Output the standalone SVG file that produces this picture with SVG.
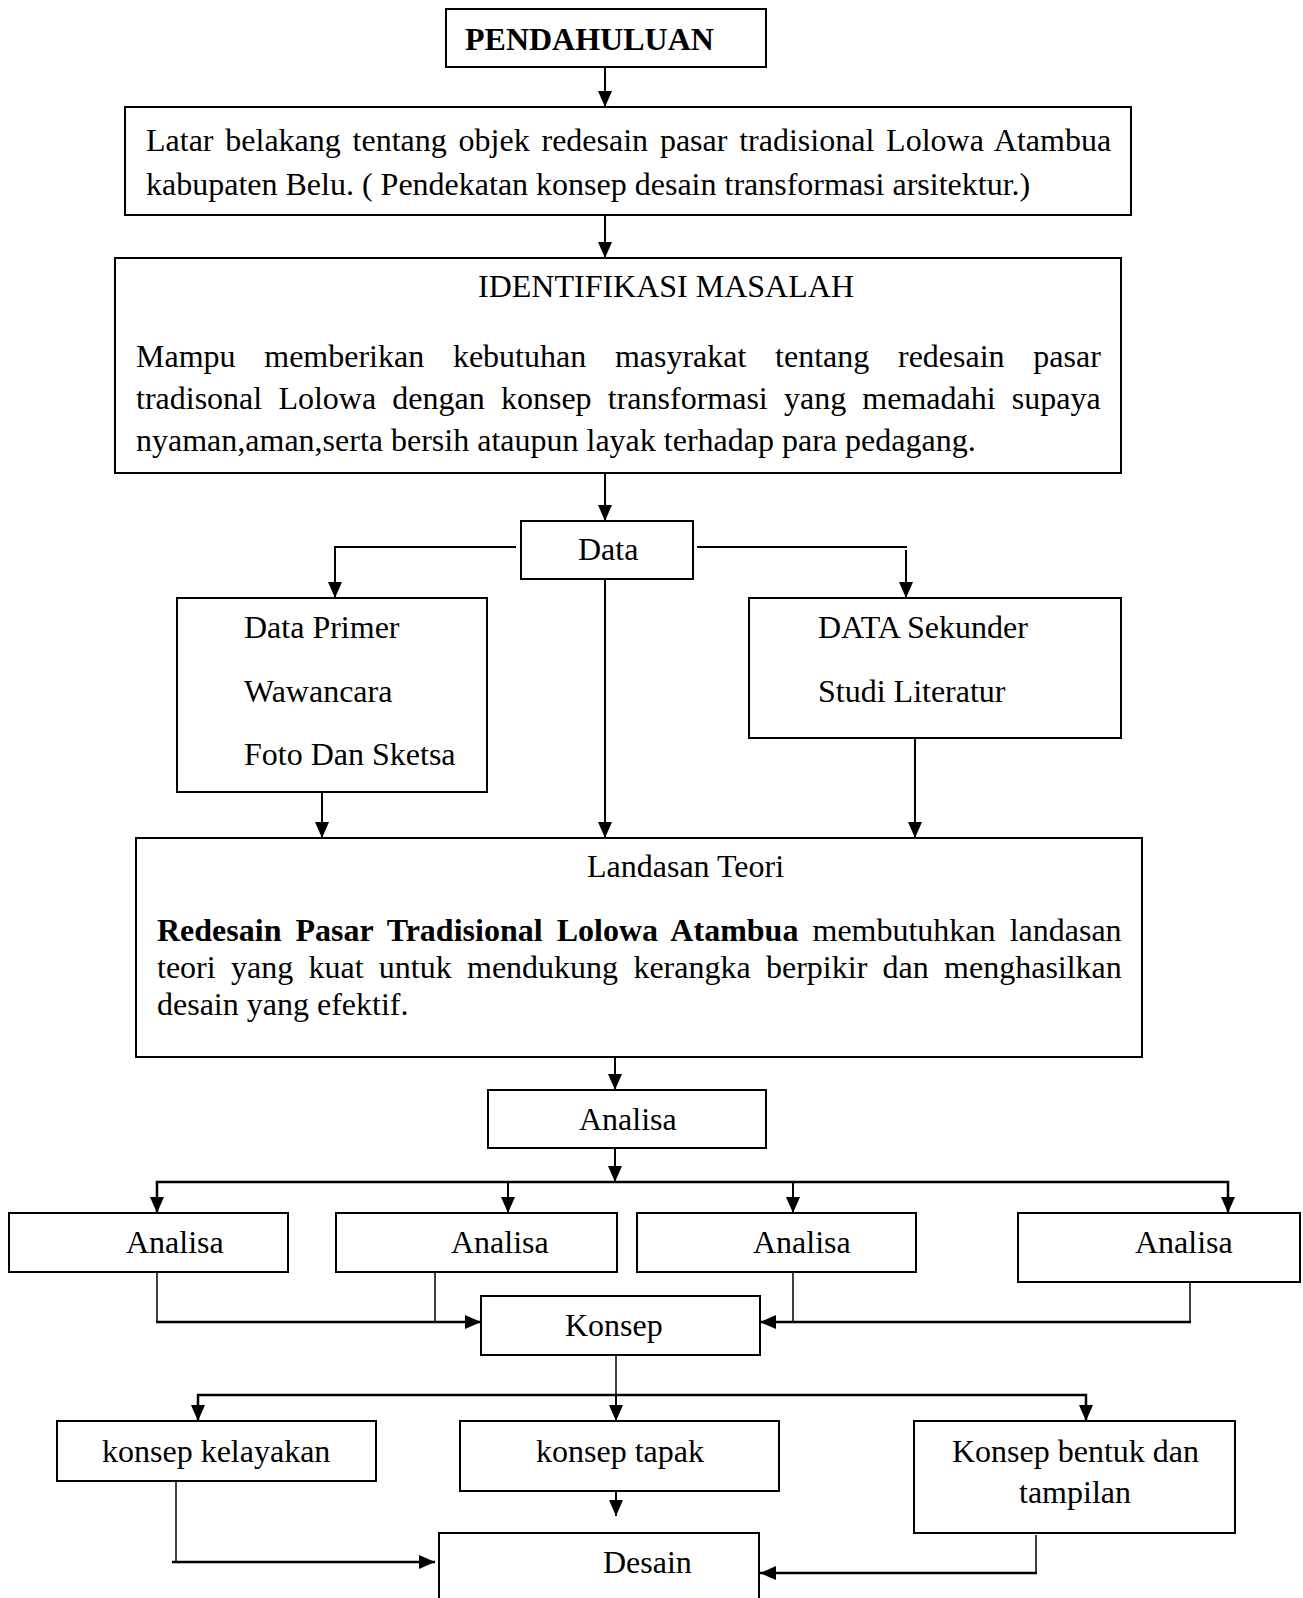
<svg xmlns="http://www.w3.org/2000/svg" width="1303" height="1598" viewBox="0 0 1303 1598">
<style>
  .box { fill: #fff; stroke: #000; stroke-width: 2; }
  .t { font-family: "Liberation Serif", "Times New Roman", serif; font-size: 32px; fill: #000; }
  .b { font-weight: bold; }
  .ln { fill: none; stroke: #000; stroke-width: 2; }
  .thin { fill: none; stroke: #000; stroke-width: 1.5; }
  .thick { fill: none; stroke: #000; stroke-width: 2.5; }
</style>
<defs>
  <marker id="ah" viewBox="0 0 16 14" refX="16" refY="7" markerWidth="16" markerHeight="14" markerUnits="userSpaceOnUse" orient="auto">
    <path d="M0,0 L16,7 L0,14 z" fill="#000"/>
  </marker>
</defs>
<rect x="0" y="0" width="1303" height="1598" fill="#fff"/>

<g id="connectors">
  <line class="ln" x1="605" y1="67" x2="605" y2="107" marker-end="url(#ah)"/>
  <line class="ln" x1="605" y1="215" x2="605" y2="258" marker-end="url(#ah)"/>
  <line class="ln" x1="605" y1="473" x2="605" y2="521" marker-end="url(#ah)"/>
  <polyline class="ln" points="516,547 335,547 335,598" marker-end="url(#ah)"/>
  <polyline class="ln" points="697,547 907,547" />
  <line class="ln" x1="906" y1="550" x2="906" y2="598" marker-end="url(#ah)"/>
  <line class="ln" x1="605" y1="579" x2="605" y2="838" marker-end="url(#ah)"/>
  <line class="ln" x1="322" y1="792" x2="322" y2="838" marker-end="url(#ah)"/>
  <line class="ln" x1="915" y1="738" x2="915" y2="838" marker-end="url(#ah)"/>
  <line class="ln" x1="615" y1="1057" x2="615" y2="1090" marker-end="url(#ah)"/>
  <line class="ln" x1="615" y1="1148" x2="615" y2="1182" marker-end="url(#ah)"/>
  <polyline class="thick" points="157,1213 157,1182 1228,1182 1228,1213" />
  <line class="ln" x1="157" y1="1190" x2="157" y2="1213" marker-end="url(#ah)"/>
  <line class="ln" x1="508" y1="1182" x2="508" y2="1213" marker-end="url(#ah)"/>
  <line class="ln" x1="793" y1="1182" x2="793" y2="1213" marker-end="url(#ah)"/>
  <line class="ln" x1="1228" y1="1190" x2="1228" y2="1213" marker-end="url(#ah)"/>
  <polyline class="thin" points="157,1272 157,1322" />
  <line class="thick" x1="156" y1="1322" x2="481" y2="1322" marker-end="url(#ah)"/>
  <line class="thin" x1="435" y1="1272" x2="435" y2="1322"/>
  <line class="thin" x1="793" y1="1272" x2="793" y2="1322"/>
  <polyline class="thin" points="1190,1282 1190,1322" />
  <line class="thick" x1="1191" y1="1322" x2="760" y2="1322" marker-end="url(#ah)"/>
  <line class="thin" x1="616" y1="1355" x2="616" y2="1395"/>
  <polyline class="thick" points="198,1421 198,1395 1086,1395 1086,1421" />
  <line class="ln" x1="198" y1="1400" x2="198" y2="1421" marker-end="url(#ah)"/>
  <line class="ln" x1="616" y1="1395" x2="616" y2="1421" marker-end="url(#ah)"/>
  <line class="ln" x1="1086" y1="1400" x2="1086" y2="1421" marker-end="url(#ah)"/>
  <line class="ln" x1="616" y1="1492" x2="616" y2="1516" marker-end="url(#ah)"/>
  <line class="thin" x1="176" y1="1481" x2="176" y2="1562"/>
  <line class="thick" x1="172" y1="1562" x2="435" y2="1562" marker-end="url(#ah)"/>
  <polyline class="thin" points="1036,1535 1036,1573" />
  <line class="thick" x1="1037" y1="1573" x2="760" y2="1573" marker-end="url(#ah)"/>
</g>

<g id="pendahuluan">
  <rect class="box" x="446" y="9" width="320" height="58"/>
  <text class="t b" x="465" y="50">PENDAHULUAN</text>
</g>

<g id="latar">
  <rect class="box" x="125" y="107" width="1006" height="108"/>
  <text class="t" x="146" y="151" style="word-spacing:3.8px">Latar belakang tentang objek redesain pasar tradisional Lolowa Atambua</text>
  <text class="t" x="146" y="195">kabupaten Belu. ( Pendekatan konsep desain transformasi arsitektur.)</text>
</g>

<g id="identifikasi">
  <rect class="box" x="115" y="258" width="1006" height="215"/>
  <text class="t" x="478" y="297">IDENTIFIKASI MASALAH</text>
  <text class="t" x="136" y="367" style="word-spacing:20.7px">Mampu memberikan kebutuhan masyrakat tentang redesain pasar</text>
  <text class="t" x="136" y="409" style="word-spacing:8.2px">tradisonal Lolowa dengan konsep transformasi yang memadahi supaya</text>
  <text class="t" x="136" y="451">nyaman,aman,serta bersih ataupun layak terhadap para pedagang.</text>
</g>

<g id="data">
  <rect class="box" x="521" y="521" width="172" height="58"/>
  <text class="t" x="578" y="560">Data</text>
</g>

<g id="data-primer">
  <rect class="box" x="177" y="598" width="310" height="194"/>
  <text class="t" x="244" y="638">Data Primer</text>
  <text class="t" x="244" y="702">Wawancara</text>
  <text class="t" x="244" y="765">Foto Dan Sketsa</text>
</g>

<g id="data-sekunder">
  <rect class="box" x="749" y="598" width="372" height="140"/>
  <text class="t" x="818" y="638">DATA Sekunder</text>
  <text class="t" x="818" y="702">Studi Literatur</text>
</g>

<g id="landasan">
  <rect class="box" x="136" y="838" width="1006" height="219"/>
  <text class="t" x="587" y="877">Landasan Teori</text>
  <text class="t" x="157" y="941" style="word-spacing:6.1px"><tspan class="b">Redesain Pasar Tradisional Lolowa Atambua</tspan> membutuhkan landasan</text>
  <text class="t" x="157" y="978" style="word-spacing:7.3px">teori yang kuat untuk mendukung kerangka berpikir dan menghasilkan</text>
  <text class="t" x="157" y="1015">desain yang efektif.</text>
</g>

<g id="analisa">
  <rect class="box" x="488" y="1090" width="278" height="58"/>
  <text class="t" x="579" y="1130">Analisa</text>
</g>

<g id="analisa-1">
  <rect class="box" x="9" y="1213" width="279" height="59"/>
  <text class="t" x="126" y="1253">Analisa</text>
</g>
<g id="analisa-2">
  <rect class="box" x="336" y="1213" width="281" height="59"/>
  <text class="t" x="451" y="1253">Analisa</text>
</g>
<g id="analisa-3">
  <rect class="box" x="637" y="1213" width="279" height="59"/>
  <text class="t" x="753" y="1253">Analisa</text>
</g>
<g id="analisa-4">
  <rect class="box" x="1018" y="1213" width="282" height="69"/>
  <text class="t" x="1135" y="1253">Analisa</text>
</g>

<g id="konsep">
  <rect class="box" x="481" y="1296" width="279" height="59"/>
  <text class="t" x="565" y="1336">Konsep</text>
</g>

<g id="konsep-kelayakan">
  <rect class="box" x="57" y="1421" width="319" height="60"/>
  <text class="t" x="102" y="1462">konsep kelayakan</text>
</g>
<g id="konsep-tapak">
  <rect class="box" x="460" y="1421" width="319" height="70"/>
  <text class="t" x="536" y="1462">konsep tapak</text>
</g>
<g id="konsep-bentuk">
  <rect class="box" x="914" y="1421" width="321" height="112"/>
  <text class="t" x="952" y="1462">Konsep bentuk dan</text>
  <text class="t" x="1019" y="1503">tampilan</text>
</g>

<g id="desain">
  <rect class="box" x="439" y="1533" width="320" height="80"/>
  <text class="t" x="603" y="1573">Desain</text>
</g>
</svg>
